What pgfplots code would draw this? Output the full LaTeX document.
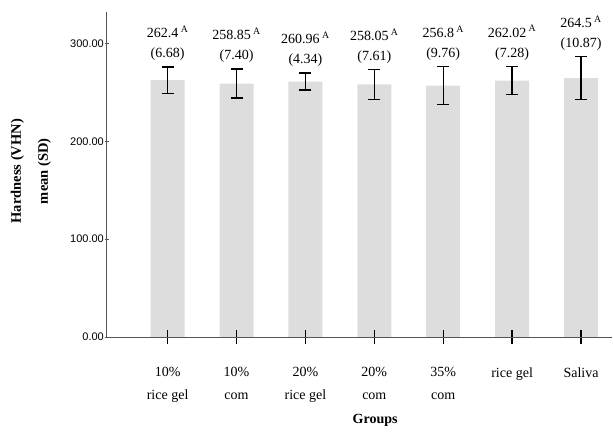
\documentclass[border=0pt]{standalone}
\usepackage{pgfplots}
\pgfplotsset{compat=1.18}
\usepackage{fontspec}
\setmainfont{Liberation Serif}
\newfontfamily\arial{Liberation Sans}
\definecolor{barfill}{RGB}{221,221,221}
\definecolor{axgray}{RGB}{85,85,85}
\tikzset{lbl/.style={anchor=south, inner sep=0pt, yshift=6pt, align=center, font=\fontsize{14}{20}\selectfont}}
\begin{document}
\begin{tikzpicture}
\useasboundingbox (-107pt,-100pt) rectangle (506pt,337pt);
\pgfplotsset{common/.style={
  scale only axis,
  width=505pt, height=325pt,
  xmin=-0.88, xmax=6.45,
  ymin=0, ymax=332,
  tick align=outside,
  clip=false,
}}
\begin{axis}[
  common,
  axis x line=none,
  axis y line=left,
  axis line style={-, axgray, line width=1pt},
  ytick={0,100,200,300},
  yticklabel style={font=\arial\fontsize{11}{13}\selectfont, inner sep=1pt},
  y tick label style={/pgf/number format/fixed, /pgf/number format/fixed zerofill, /pgf/number format/precision=2, /pgf/number format/assume math mode=true},
  ytick style={axgray, line width=1pt},
  major tick length=4pt,
  ylabel={Hardness (VHN)\\mean (SD)},
  ylabel style={at={(axis description cs:0,0.51)}, anchor=center, yshift=76pt, align=center, font=\bfseries\fontsize{14.5}{27}\selectfont},
]
\addplot[ybar, bar width=34pt, fill=barfill, draw=none,
  error bars/.cd, y dir=both, y explicit,
  error bar style={black, line width=1.3pt},
  error mark options={rotate=90, mark size=6pt, black, line width=1.3pt}]
coordinates {
  (0,262.40) +- (0,13.36)
  (1,258.85) +- (0,14.80)
  (2,260.96) +- (0,8.68)
  (3,258.05) +- (0,15.22)
  (4,256.80) +- (0,19.52)
  (5,262.02) +- (0,14.56)
  (6,264.50) +- (0,21.74)
};
\node[lbl] at (axis cs:0,275.76) {262.4\,\textsuperscript{A}\\(6.68)};
\node[lbl] at (axis cs:1,273.65) {258.85\,\textsuperscript{A}\\(7.40)};
\node[lbl] at (axis cs:2,269.64) {260.96\,\textsuperscript{A}\\(4.34)};
\node[lbl] at (axis cs:3,273.27) {258.05\,\textsuperscript{A}\\(7.61)};
\node[lbl] at (axis cs:4,276.32) {256.8\,\textsuperscript{A}\\(9.76)};
\node[lbl] at (axis cs:5,276.58) {262.02\,\textsuperscript{A}\\(7.28)};
\node[lbl] at (axis cs:6,286.24) {264.5\,\textsuperscript{A}\\(10.87)};
\end{axis}
\begin{axis}[
  common,
  axis x line=bottom,
  axis y line=none,
  axis line style={-, axgray, line width=1pt},
  xtick={0,1,2,3,4,5,6},
  xticklabels={{10\%\\rice gel},{10\%\\com},{20\%\\rice gel},{20\%\\com},{35\%\\com},{rice gel},{Saliva}},
  xticklabel style={align=center, font=\fontsize{14}{23}\selectfont, anchor=north, yshift=-20pt},
  xtick style={black, line width=1.3pt},
  major tick length=14pt,
  xlabel={\textbf{Groups}},
  xlabel style={at={(axis description cs:0.531,0)}, anchor=center, yshift=-83pt, font=\fontsize{14}{16}\selectfont},
]
\addplot[draw=none, forget plot] coordinates {(0,0)};
\end{axis}
\end{tikzpicture}
\end{document}
